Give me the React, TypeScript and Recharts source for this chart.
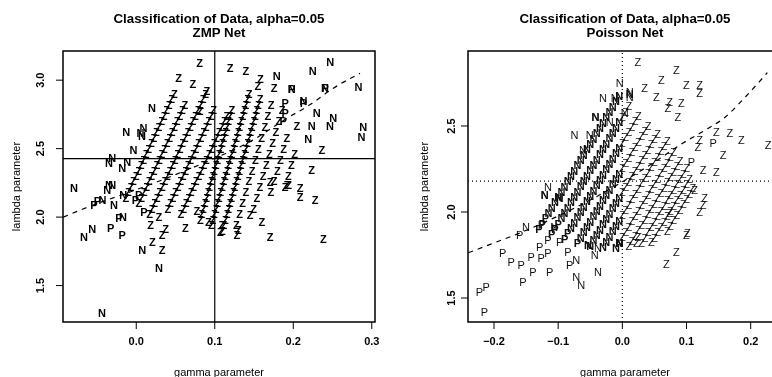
import React from "react";
import { ReferenceArea, ReferenceLine, Scatter, ScatterChart, XAxis, YAxis } from "recharts";

type Pt = [number, number];

const FONT = '"Liberation Sans", Arial, Helvetica, sans-serif';

// ---------- ZMP Net panel ----------
const zmpXTicks = [0, 0.1, 0.2, 0.3];
const zmpYTicks = [1.5, 2.0, 2.5, 3.0];
const zmpXDomain: [number, number] = [-0.0933, 0.3041];
const zmpYDomain: [number, number] = [1.234, 3.213];
const zmpGammaLine = 0.1;
const zmpLambdaLine = 2.427;

const zmpCurve: Pt[] = [
  [-0.093, 2.0], [-0.054, 2.09], [0.0, 2.2], [0.05, 2.31], [0.1, 2.43], [0.145, 2.551],
  [0.192, 2.722], [0.221, 2.82], [0.251, 2.941], [0.285, 3.05],
];

const zmpN: Pt[] = [
  [0.179, 3.03], [0.2248, 3.066], [0.247, 3.13], [0.283, 2.951], [0.213, 2.846], [0.23, 2.76],
  [0.251, 2.725], [0.2235, 2.663], [0.2468, 2.663], [0.2892, 2.656], [0.287, 2.583], [0.219, 2.571],
  [0.198, 2.937], [0.2405, 2.944], [0.02, 2.798], [-0.0127, 2.619], [0.0093, 2.651], [0.0073, 2.59],
  [-0.0034, 2.493], [-0.0793, 2.212], [-0.0665, 1.858], [-0.056, 1.912], [-0.0169, 2.004],
  [-0.0165, 2.163], [-0.0284, 2.09], [-0.0305, 2.236], [0.0076, 1.761], [0.0289, 1.627],
  [-0.0437, 1.302], [-0.043, 2.127], [-0.037, 2.2], [-0.0348, 2.392], [-0.0305, 2.429],
  [-0.0178, 2.356], [-0.0115, 2.405], [-0.0348, 2.234], [0.0055, 2.612],
];

const zmpP: Pt[] = [
  [0.1896, 2.834], [0.213, 2.83], [0.1896, 2.763], [0.187, 2.7], [0.198, 2.937], [0.2405, 2.944],
  [-0.0327, 1.92], [-0.0178, 1.87], [-0.022, 1.993], [-0.054, 2.09], [-0.0496, 2.114],
  [-0.001, 2.127], [0.0098, 2.04], [0.003, 2.16],
];

const zmpZ: Pt[] = [
  [0.0806, 3.127], [0.1196, 3.09], [0.1395, 3.066], [0.054, 3.018], [0.072, 2.969], [0.09, 2.92],
  [0.158, 3.005], [0.155, 2.96], [0.1755, 2.944], [0.2045, 2.663], [0.2363, 2.488], [0.2235, 2.346],
  [0.0814, 2.773], [0.0182, 1.944], [0.0289, 2.004], [0.0373, 1.912], [0.0331, 1.87], [0.0204, 1.821],
  [0.0331, 1.761], [0.0627, 1.92], [0.2087, 2.209], [0.2277, 2.124], [0.194, 2.234], [0.1705, 1.856],
  [0.2383, 1.843], [0.16, 1.966], [0.145, 2.015], [0.13, 1.905], [0.128, 1.868], [0.109, 1.941],
  [0.107, 1.892], [0.092, 1.966], [0.1705, 2.258], [0.2087, 2.149], [0.192, 2.236], [0.0772, 2.041],
];

// chains of Z left of the gamma line
const zmpZStreaksLeft: Pt[] = [
  [-0.0133, 2.14], [-0.0101, 2.18], [-0.0068, 2.22], [-0.0036, 2.26], [-0.0003, 2.3], [0.0029, 2.34],
  [0.0062, 2.38], [0.0094, 2.42], [0.0127, 2.46], [0.0159, 2.5], [0.0192, 2.54], [0.0224, 2.58],
  [0.0257, 2.62], [0.0289, 2.66], [0.0322, 2.7], [0.0354, 2.74], [0.0387, 2.78], [0.042, 2.82],
  [0.0452, 2.86], [0.0485, 2.9],
  [0.0034, 2.1], [0.0067, 2.14], [0.0099, 2.18], [0.0132, 2.22], [0.0164, 2.26], [0.0197, 2.3],
  [0.0229, 2.34], [0.0262, 2.38], [0.0294, 2.42], [0.0327, 2.46], [0.0359, 2.5], [0.0392, 2.54],
  [0.0424, 2.58], [0.0457, 2.62], [0.0489, 2.66], [0.0522, 2.7], [0.0554, 2.74], [0.0587, 2.78],
  [0.062, 2.82],
  [0.0169, 2.02], [0.0202, 2.06], [0.0234, 2.1], [0.0267, 2.14], [0.0299, 2.18], [0.0332, 2.22],
  [0.0364, 2.26], [0.0397, 2.3], [0.0429, 2.34], [0.0462, 2.38], [0.0494, 2.42], [0.0527, 2.46],
  [0.0559, 2.5], [0.0592, 2.54], [0.0624, 2.58], [0.0657, 2.62], [0.0689, 2.66], [0.0722, 2.7],
  [0.0754, 2.74], [0.0787, 2.78], [0.082, 2.82], [0.0852, 2.86], [0.0885, 2.9],
  [0.0402, 2.06], [0.0434, 2.1], [0.0467, 2.14], [0.0499, 2.18], [0.0532, 2.22], [0.0564, 2.26],
  [0.0597, 2.3], [0.0629, 2.34], [0.0662, 2.38], [0.0694, 2.42], [0.0727, 2.46], [0.0759, 2.5],
  [0.0792, 2.54], [0.0824, 2.58], [0.0857, 2.62], [0.0889, 2.66], [0.0922, 2.7], [0.0954, 2.74],
  [0.0987, 2.78],
  [0.0569, 2.02], [0.0602, 2.06], [0.0634, 2.1], [0.0667, 2.14], [0.0699, 2.18], [0.0732, 2.22],
  [0.0764, 2.26], [0.0797, 2.3], [0.0829, 2.34], [0.0862, 2.38], [0.0894, 2.42], [0.0927, 2.46],
  [0.0959, 2.5], [0.0992, 2.54], [0.1024, 2.58], [0.1057, 2.62], [0.1089, 2.66], [0.1122, 2.7],
  [0.1154, 2.74],
];

// chains of Z right of the gamma line
const zmpZStreaksRight: Pt[] = [
  [0.0816, 1.98], [0.0836, 2.02], [0.0856, 2.06], [0.0876, 2.1], [0.0896, 2.14], [0.0916, 2.18],
  [0.0936, 2.22], [0.0956, 2.26], [0.0976, 2.3], [0.0996, 2.34], [0.1016, 2.38], [0.1037, 2.42],
  [0.1057, 2.46], [0.1077, 2.5], [0.1097, 2.54], [0.1117, 2.58], [0.1137, 2.62], [0.1157, 2.66],
  [0.1177, 2.7], [0.1197, 2.74], [0.1217, 2.78],
  [0.0956, 1.94], [0.0976, 1.98], [0.0996, 2.02], [0.1016, 2.06], [0.1036, 2.1], [0.1056, 2.14],
  [0.1076, 2.18], [0.1096, 2.22], [0.1116, 2.26], [0.1136, 2.3], [0.1156, 2.34], [0.1176, 2.38],
  [0.1196, 2.42], [0.1217, 2.46], [0.1237, 2.5], [0.1257, 2.54], [0.1277, 2.58], [0.1297, 2.62],
  [0.1317, 2.66], [0.1337, 2.7], [0.1357, 2.74], [0.1377, 2.78], [0.1397, 2.82], [0.1417, 2.86],
  [0.1437, 2.9],
  [0.1096, 1.9], [0.1116, 1.94], [0.1136, 1.98], [0.1156, 2.02], [0.1176, 2.06], [0.1196, 2.1],
  [0.1216, 2.14], [0.1236, 2.18], [0.1256, 2.22], [0.1276, 2.26], [0.1296, 2.3], [0.1316, 2.34],
  [0.1336, 2.38], [0.1356, 2.42], [0.1377, 2.46], [0.1397, 2.5], [0.1417, 2.54], [0.1437, 2.58],
  [0.1457, 2.62], [0.1477, 2.66], [0.1497, 2.7], [0.1517, 2.74], [0.1537, 2.78], [0.1557, 2.82],
  [0.1577, 2.86],
  [0.1276, 1.94], [0.1316, 2.02], [0.1356, 2.1], [0.1396, 2.18], [0.1436, 2.26], [0.1476, 2.34],
  [0.1516, 2.42], [0.1557, 2.5], [0.1597, 2.58], [0.1637, 2.66], [0.1677, 2.74], [0.1717, 2.82],
  [0.1496, 2.06], [0.1536, 2.14], [0.1576, 2.22], [0.1616, 2.3], [0.1656, 2.38], [0.1697, 2.46],
  [0.1737, 2.54], [0.1777, 2.62], [0.1817, 2.7], [0.1857, 2.78],
  [0.1716, 2.18], [0.1756, 2.26], [0.1796, 2.34], [0.1836, 2.42], [0.1877, 2.5], [0.1917, 2.58],
  [0.1896, 2.22], [0.1936, 2.3], [0.1976, 2.38], [0.2017, 2.46],
];

// ---------- Poisson Net panel ----------
const poiXTicks = [-0.2, -0.1, 0, 0.1, 0.2];
const poiYTicks = [1.5, 2.0, 2.5];
const poiXDomain: [number, number] = [-0.2405, 0.2457];
const poiYDomain: [number, number] = [1.3605, 2.936];
const poiGammaLine = 0;
const poiLambdaLine = 2.18;

const poiCurve: Pt[] = [
  [-0.24, 1.763], [-0.2, 1.82], [-0.161, 1.876], [-0.108, 1.963], [-0.05, 2.07], [0.0, 2.175],
  [0.05, 2.29], [0.094, 2.4], [0.125, 2.467], [0.161, 2.554], [0.192, 2.67], [0.226, 2.81],
];

const poiN: Pt[] = [
  [-0.0042, 2.748], [-0.0302, 2.661], [-0.012, 2.661], [0.0114, 2.7], [0.0114, 2.67], [-0.0417, 2.554],
  [0.0036, 2.574], [-0.0198, 2.525], [-0.0744, 2.448], [-0.051, 2.448], [-0.0615, 2.36],
  [-0.0042, 1.818], [-0.038, 1.789], [-0.043, 1.75], [-0.0537, 1.808], [-0.0718, 1.721],
  [-0.038, 1.653], [-0.0718, 1.624], [-0.064, 1.576], [-0.15, 1.914], [-0.106, 1.914],
  [-0.116, 2.147], [-0.098, 2.08], [-0.121, 2.099],
];

const poiNBold: Pt[] = [
  [-0.0417, 2.554], [-0.121, 2.099], [-0.098, 2.08], [0.0114, 2.685], [-0.0042, 1.818], [-0.0537, 1.808],
];

const poiP: Pt[] = [
  [-0.1134, 1.653], [-0.1395, 1.653], [-0.155, 1.595], [-0.1863, 1.76], [-0.1732, 1.711],
  [-0.1576, 1.692], [-0.142, 1.74], [-0.1264, 1.731], [-0.116, 1.76], [-0.129, 1.798], [-0.116, 1.837],
  [-0.0978, 1.827], [-0.0849, 1.769], [-0.0822, 1.692], [-0.2226, 1.537], [-0.2122, 1.566],
  [-0.2148, 1.42], [-0.16, 1.866], [-0.126, 1.924], [0.1414, 2.4], [0.1076, 2.292],
];

const poiZ: Pt[] = [
  [0.0244, 2.874], [0.0842, 2.826], [0.0608, 2.767], [0.0998, 2.738], [0.1206, 2.738], [0.1206, 2.69],
  [0.0348, 2.719], [0.053, 2.67], [0.0738, 2.641], [0.0711, 2.603], [0.092, 2.632], [0.0867, 2.554],
  [0.1466, 2.467], [0.1674, 2.458], [0.1856, 2.419], [0.227, 2.39], [0.1206, 2.419], [0.1179, 2.38],
  [0.157, 2.331], [0.1257, 2.244], [0.1466, 2.234], [0.1128, 2.128], [0.1284, 2.08], [0.1257, 2.041],
  [0.1206, 2.002], [0.0998, 1.866], [0.0842, 1.769], [0.0686, 1.696], [0.0738, 1.992], [0.0452, 1.827],
  [0.0244, 1.856], [0.0218, 1.818], [0.1014, 1.876],
];

// diagonal chains: lower ends are P, left of the gamma line N, right of it Z
const poiBandP: Pt[] = [
  [-0.13, 1.9], [-0.125, 1.931], [-0.12, 1.962],
  [-0.11, 1.87], [-0.105, 1.901], [-0.1, 1.932],
  [-0.09, 1.845], [-0.085, 1.876],
  [-0.07, 1.82],
];

const poiBandN: Pt[] = [
  [-0.115, 1.993], [-0.11, 2.024], [-0.105, 2.055], [-0.1, 2.086], [-0.095, 2.117], [-0.09, 2.148],
  [-0.085, 2.179], [-0.08, 2.21], [-0.075, 2.241], [-0.07, 2.272], [-0.065, 2.303], [-0.06, 2.334],
  [-0.055, 2.365], [-0.05, 2.396], [-0.045, 2.427], [-0.04, 2.458], [-0.035, 2.489], [-0.03, 2.52],
  [-0.025, 2.551], [-0.02, 2.582], [-0.015, 2.613], [-0.01, 2.644], [-0.005, 2.675],
  [-0.095, 1.963], [-0.09, 1.994], [-0.085, 2.025], [-0.08, 2.056], [-0.075, 2.087], [-0.07, 2.118],
  [-0.065, 2.149], [-0.06, 2.18], [-0.055, 2.211], [-0.05, 2.242], [-0.045, 2.273], [-0.04, 2.304],
  [-0.035, 2.335], [-0.03, 2.366], [-0.025, 2.397], [-0.02, 2.428], [-0.015, 2.459], [-0.01, 2.49],
  [-0.005, 2.521],
  [-0.08, 1.907], [-0.075, 1.938], [-0.07, 1.969], [-0.065, 2.0], [-0.06, 2.031], [-0.055, 2.062],
  [-0.05, 2.093], [-0.045, 2.124], [-0.04, 2.155], [-0.035, 2.186], [-0.03, 2.217], [-0.025, 2.248],
  [-0.02, 2.279], [-0.015, 2.31], [-0.01, 2.341], [-0.005, 2.372],
  [-0.065, 1.851], [-0.06, 1.882], [-0.055, 1.913], [-0.05, 1.944], [-0.045, 1.975], [-0.04, 2.006],
  [-0.035, 2.037], [-0.03, 2.068], [-0.025, 2.099], [-0.02, 2.13], [-0.015, 2.161], [-0.01, 2.192],
  [-0.005, 2.223],
  [-0.05, 1.805], [-0.045, 1.836], [-0.04, 1.867], [-0.035, 1.898], [-0.03, 1.929], [-0.025, 1.96],
  [-0.02, 1.991], [-0.015, 2.022], [-0.01, 2.053], [-0.005, 2.084],
  [-0.03, 1.795], [-0.025, 1.826], [-0.02, 1.857], [-0.015, 1.888], [-0.01, 1.919], [-0.005, 1.95],
  [-0.01, 1.79], [-0.005, 1.821],
];

const poiBandZ: Pt[] = [
  [0.0, 2.552], [0.005, 2.583], [0.01, 2.614],
  [0.0, 2.403], [0.005, 2.434], [0.01, 2.465], [0.015, 2.496], [0.02, 2.527], [0.025, 2.558],
  [0.0, 2.254], [0.005, 2.285], [0.01, 2.316], [0.015, 2.347], [0.02, 2.378], [0.025, 2.409],
  [0.03, 2.44], [0.035, 2.471], [0.04, 2.502],
  [0.0, 2.115], [0.005, 2.146], [0.01, 2.177], [0.015, 2.208], [0.02, 2.239], [0.025, 2.27],
  [0.03, 2.301], [0.035, 2.332], [0.04, 2.363], [0.045, 2.394], [0.05, 2.425], [0.055, 2.456],
  [0.0, 1.981], [0.005, 2.012], [0.01, 2.043], [0.015, 2.074], [0.02, 2.105], [0.025, 2.136],
  [0.03, 2.167], [0.035, 2.198], [0.04, 2.229], [0.045, 2.26], [0.05, 2.291], [0.055, 2.322],
  [0.06, 2.353], [0.065, 2.384], [0.07, 2.415],
  [0.0, 1.852], [0.005, 1.883], [0.01, 1.914], [0.015, 1.945], [0.02, 1.976], [0.025, 2.007],
  [0.03, 2.038], [0.035, 2.069], [0.04, 2.1], [0.045, 2.131], [0.05, 2.162], [0.055, 2.193],
  [0.06, 2.224], [0.065, 2.255], [0.07, 2.286], [0.075, 2.317], [0.08, 2.348],
  [0.01, 1.8], [0.015, 1.831], [0.02, 1.862], [0.025, 1.893], [0.03, 1.924], [0.035, 1.955],
  [0.04, 1.986], [0.045, 2.017], [0.05, 2.048], [0.055, 2.079], [0.06, 2.11], [0.065, 2.141],
  [0.07, 2.172], [0.075, 2.203], [0.08, 2.234], [0.085, 2.265], [0.09, 2.296],
  [0.03, 1.82], [0.035, 1.851], [0.04, 1.882], [0.045, 1.913], [0.05, 1.944], [0.055, 1.975],
  [0.06, 2.006], [0.065, 2.037], [0.07, 2.068], [0.075, 2.099], [0.08, 2.13], [0.085, 2.161],
  [0.09, 2.192], [0.095, 2.223], [0.1, 2.254],
  [0.05, 1.85], [0.055, 1.881], [0.06, 1.912], [0.065, 1.943], [0.07, 1.974], [0.075, 2.005],
  [0.08, 2.036], [0.085, 2.067], [0.09, 2.098], [0.095, 2.129], [0.1, 2.16], [0.105, 2.191],
  [0.07, 1.89], [0.075, 1.921], [0.08, 1.952], [0.085, 1.983], [0.09, 2.014], [0.095, 2.045],
  [0.1, 2.076], [0.105, 2.107], [0.11, 2.138],
];

// ---------- helpers ----------
const toData = (pts: Pt[]) => pts.map(([x, y]) => ({ x, y }));

const fmt = (v: number) => (v < 0 ? "\u2212" : "") + Math.abs(v).toFixed(1);

function letter(ch: string, bold: boolean, fill = "#000") {
  return (props: any) => {
    const { cx, cy } = props;
    if (cx == null || cy == null) return <g />;
    return (
      <text
        x={cx}
        y={cy}
        dy="0.36em"
        textAnchor="middle"
        fontSize={11}
        fontFamily={FONT}
        fontWeight={bold ? "bold" : "normal"}
        fill={fill}
      >
        {ch}
      </text>
    );
  };
}

const noDot = () => <g />;

function XTick(props: any) {
  const { x, y, payload } = props;
  return (
    <text x={x} y={y} dy="0.71em" textAnchor="middle" fontSize={11} fontWeight="bold" fontFamily={FONT} fill="#000">
      {fmt(payload.value)}
    </text>
  );
}

function YTick(props: any) {
  const { x, y, payload } = props;
  return (
    <text
      x={x}
      y={y}
      transform={`rotate(-90 ${x} ${y})`}
      textAnchor="middle"
      fontSize={11}
      fontWeight="bold"
      fontFamily={FONT}
      fill="#000"
    >
      {fmt(payload.value)}
    </text>
  );
}

function ZmpPanel() {
  return (
    <ScatterChart width={386} height={377} margin={{ top: 51, right: 11, bottom: 0, left: 0 }}>
      <XAxis
        type="number"
        dataKey="x"
        domain={zmpXDomain}
        allowDataOverflow
        ticks={zmpXTicks}
        interval={0}
        height={55}
        axisLine={false}
        tickLine={{ stroke: "#000" }}
        tickSize={7}
        tickMargin={8}
        tick={<XTick />}
      />
      <YAxis
        type="number"
        dataKey="y"
        domain={zmpYDomain}
        allowDataOverflow
        ticks={zmpYTicks}
        interval={0}
        width={63}
        axisLine={false}
        tickLine={{ stroke: "#000" }}
        tickSize={7}
        tickMargin={12}
        tick={<YTick />}
      />
      <Scatter data={toData(zmpZStreaksLeft)} shape={letter("Z", true)} isAnimationActive={false} />
      <Scatter data={toData(zmpZStreaksRight)} shape={letter("Z", true)} isAnimationActive={false} />
      <Scatter data={toData(zmpZ)} shape={letter("Z", true)} isAnimationActive={false} />
      <Scatter data={toData(zmpP)} shape={letter("P", true)} isAnimationActive={false} />
      <Scatter data={toData(zmpN)} shape={letter("N", true)} isAnimationActive={false} />
      <Scatter
        data={toData(zmpCurve)}
        shape={noDot}
        line={{ stroke: "#000", strokeWidth: 1.2, strokeDasharray: "5 5" }}
        lineJointType="monotoneX"
        isAnimationActive={false}
      />
      <ReferenceLine x={zmpGammaLine} stroke="#000" strokeWidth={1.2} />
      <ReferenceLine y={zmpLambdaLine} stroke="#000" strokeWidth={1.2} />
      <ReferenceArea
        x1={zmpXDomain[0]}
        x2={zmpXDomain[1]}
        y1={zmpYDomain[0]}
        y2={zmpYDomain[1]}
        fill="none"
        stroke="#000"
        strokeWidth={1.5}
      />
    </ScatterChart>
  );
}

function PoissonPanel() {
  return (
    <ScatterChart width={394} height={377} margin={{ top: 51, right: 0, bottom: 0, left: 0 }}>
      <XAxis
        type="number"
        dataKey="x"
        domain={poiXDomain}
        allowDataOverflow
        ticks={poiXTicks}
        interval={0}
        height={55}
        axisLine={false}
        tickLine={{ stroke: "#000" }}
        tickSize={7}
        tickMargin={8}
        tick={<XTick />}
      />
      <YAxis
        type="number"
        dataKey="y"
        domain={poiYDomain}
        allowDataOverflow
        ticks={poiYTicks}
        interval={0}
        width={82}
        axisLine={false}
        tickLine={{ stroke: "#000" }}
        tickSize={7}
        tickMargin={6}
        tick={<YTick />}
      />
      <Scatter data={toData(poiBandZ)} shape={letter("Z", false, "#111")} isAnimationActive={false} />
      <Scatter data={toData(poiZ)} shape={letter("Z", false, "#111")} isAnimationActive={false} />
      <Scatter data={toData(poiBandN)} shape={letter("N", true, "#111")} isAnimationActive={false} />
      <Scatter data={toData(poiN)} shape={letter("N", false, "#111")} isAnimationActive={false} />
      <Scatter data={toData(poiNBold)} shape={letter("N", true, "#111")} isAnimationActive={false} />
      <Scatter data={toData(poiBandP)} shape={letter("P", true, "#111")} isAnimationActive={false} />
      <Scatter data={toData(poiP)} shape={letter("P", false, "#111")} isAnimationActive={false} />
      <Scatter
        data={toData(poiCurve)}
        shape={noDot}
        line={{ stroke: "#000", strokeWidth: 1.2, strokeDasharray: "5 5" }}
        lineJointType="monotoneX"
        isAnimationActive={false}
      />
      <ReferenceLine x={poiGammaLine} stroke="#000" strokeWidth={1.2} strokeDasharray="1 3" />
      <ReferenceLine y={poiLambdaLine} stroke="#000" strokeWidth={1.2} strokeDasharray="1 3" />
      <ReferenceArea
        x1={poiXDomain[0]}
        x2={poiXDomain[1]}
        y1={poiYDomain[0]}
        y2={poiYDomain[1]}
        fill="none"
        stroke="#000"
        strokeWidth={1.5}
      />
    </ScatterChart>
  );
}

export default function App() {
  const titleStyle = { fontFamily: FONT, fontSize: 13.3, fontWeight: "bold" as const };
  const labelStyle = { fontFamily: FONT, fontSize: 11 };
  // a non-opaque layer keeps the overlapping letters grey-antialiased (no colour fringes)
  const layer = { position: "absolute" as const, top: 0, opacity: 0.999, willChange: "transform" };
  return (
    <div style={{ position: "absolute", left: 0, top: 0, width: 772, height: 377, overflow: "hidden", background: "#fff" }}>
      <div style={{ ...layer, left: 0 }}>
        <ZmpPanel />
      </div>
      <div style={{ ...layer, left: 386 }}>
        <PoissonPanel />
      </div>
      <svg width={772} height={377} style={{ position: "absolute", left: 0, top: 0, pointerEvents: "none" }}>
        <text x={219} y={23} textAnchor="middle" {...titleStyle}>Classification of Data, alpha=0.05</text>
        <text x={219} y={37} textAnchor="middle" {...titleStyle}>ZMP Net</text>
        <text x={625} y={23} textAnchor="middle" {...titleStyle}>Classification of Data, alpha=0.05</text>
        <text x={625} y={37} textAnchor="middle" {...titleStyle}>Poisson Net</text>
        <text x={219} y={375.5} textAnchor="middle" {...labelStyle}>gamma parameter</text>
        <text x={625} y={375.5} textAnchor="middle" {...labelStyle}>gamma parameter</text>
        <text x={19.5} y={186.5} textAnchor="middle" transform="rotate(-90 19.5 186.5)" {...labelStyle}>lambda parameter</text>
        <text x={428} y={186.5} textAnchor="middle" transform="rotate(-90 428 186.5)" {...labelStyle}>lambda parameter</text>
      </svg>
    </div>
  );
}
